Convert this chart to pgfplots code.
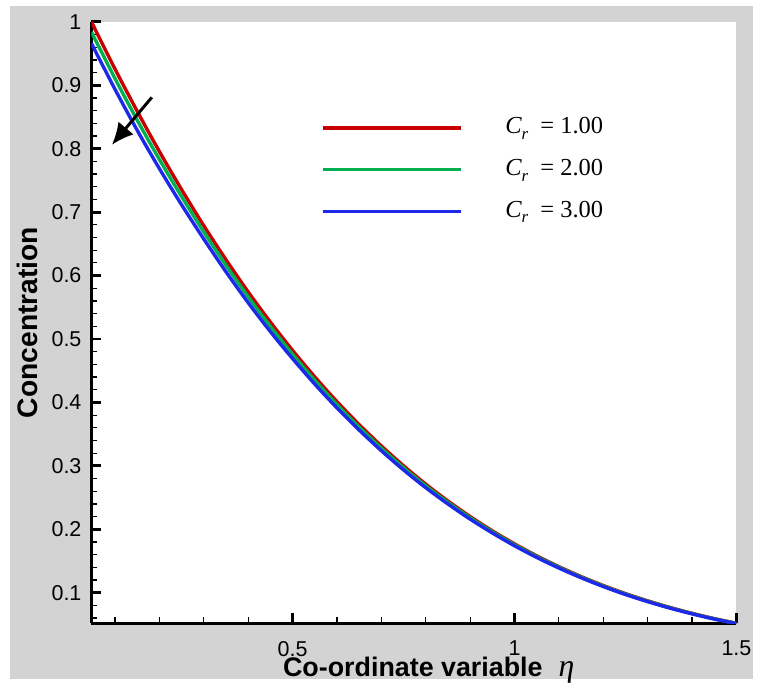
\documentclass[border=0pt]{standalone}
\usepackage{pgfplots}
\pgfplotsset{compat=1.18}
\usepackage{fontspec}
\setmainfont{Liberation Sans}
\newfontfamily\serif{Liberation Serif}
\usetikzlibrary{arrows.meta}

\definecolor{panelgray}{RGB}{211,211,211}
\definecolor{cred}{RGB}{200,0,0}
\definecolor{cgreen}{RGB}{0,176,80}
\definecolor{cblue}{RGB}{30,40,235}

% concentration profiles
\pgfplotstableread{
x y
0.047 1.000
0.10 0.9258
0.15 0.8592
0.20 0.7957
0.25 0.7357
0.30 0.6787
0.35 0.6250
0.40 0.5743
0.45 0.5267
0.50 0.4821
0.55 0.4403
0.60 0.4013
0.65 0.3651
0.70 0.3314
0.75 0.3001
0.80 0.2712
0.85 0.2446
0.90 0.2201
0.95 0.1976
1.00 0.1770
1.05 0.1582
1.10 0.1411
1.15 0.1255
1.20 0.1114
1.25 0.0986
1.30 0.0872
1.35 0.0768
1.40 0.0675
1.45 0.0592
1.50 0.0518
}\crone
\pgfplotstableread{
x y
0.047 0.984
0.10 0.9108
0.15 0.8452
0.20 0.7832
0.25 0.7247
0.30 0.6689
0.35 0.6162
0.40 0.5665
0.45 0.5198
0.50 0.4761
0.55 0.4350
0.60 0.3967
0.65 0.3611
0.70 0.3279
0.75 0.2971
0.80 0.2686
0.85 0.2424
0.90 0.2182
0.95 0.1960
1.00 0.1756
1.05 0.1570
1.10 0.1401
1.15 0.1246
1.20 0.1106
1.25 0.0979
1.30 0.0866
1.35 0.0763
1.40 0.0671
1.45 0.0588
1.50 0.0515
}\crtwo
\pgfplotstableread{
x y
0.047 0.966
0.10 0.8938
0.15 0.8292
0.20 0.7687
0.25 0.7117
0.30 0.6577
0.35 0.6060
0.40 0.5573
0.45 0.5117
0.50 0.4691
0.55 0.4289
0.60 0.3914
0.65 0.3565
0.70 0.3239
0.75 0.2936
0.80 0.2656
0.85 0.2399
0.90 0.2160
0.95 0.1942
1.00 0.1740
1.05 0.1556
1.10 0.1389
1.15 0.1236
1.20 0.1097
1.25 0.0971
1.30 0.0859
1.35 0.0757
1.40 0.0666
1.45 0.0584
1.50 0.0512
}\crthree

\newcommand{\crlab}[1]{{\serif\fontsize{12.3}{13}\selectfont\itshape C\raisebox{-0.5ex}{\fontsize{8.5}{9}\selectfont r}\upshape\hspace{0.5em}=\hspace{0.25em}#1}}

\begin{document}
\begin{tikzpicture}
\fill[white] (0,0) rectangle (379pt,343pt);
\fill[panelgray] (5pt,1.5pt) rectangle (379pt,340pt);
\begin{axis}[
    at={(46pt,29.5pt)}, anchor=south west,
    scale only axis,
    width=324.5pt, height=302.5pt,
    xmin=0.047, xmax=1.5,
    ymin=0.052, ymax=1,
    axis background/.style={fill=white},
    axis x line=bottom, axis y line=left,
    axis line style={-, line width=1.5pt, black},
    tick align=inside,
    major tick length=5pt, minor tick length=3pt,
    every major tick/.append style={line width=1.5pt, black},
    every minor tick/.append style={line width=0.6pt, black},
    xtick={0.5,1,1.5},
    minor xtick={0.1,0.2,0.3,0.4,0.6,0.7,0.8,0.9,1.1,1.2,1.3,1.4},
    ytick={0.1,0.2,0.3,0.4,0.5,0.6,0.7,0.8,0.9,1},
    minor ytick={0.06,0.08,0.12,0.14,0.16,0.18,0.22,0.24,0.26,0.28,0.32,0.34,0.36,0.38,0.42,0.44,0.46,0.48,0.52,0.54,0.56,0.58,0.62,0.64,0.66,0.68,0.72,0.74,0.76,0.78,0.82,0.84,0.86,0.88,0.92,0.94,0.96,0.98},
    /pgf/number format/assume math mode=true,
    tick label style={font=\fontsize{10.8}{12}\selectfont},
    yticklabel style={xshift=-1.5pt},
    xticklabel style={yshift=-5.5pt},
    xlabel={\textbf{Co-ordinate variable}\hspace{0.6em}{\serif\itshape\fontsize{16}{16}\selectfont η}},
    ylabel={\textbf{Concentration}},
    xlabel style={font=\fontsize{13.5}{14}\selectfont, at={(axis description cs:0.523,-0.089)}, anchor=base},
    ylabel style={font=\fontsize{14.2}{15}\selectfont, at={(axis description cs:-0.0832,0.5)}, anchor=base, rotate=0},
    legend style={at={(axis cs:0.55,0.857)}, anchor=north west, draw=none, fill=none,
        nodes={inner sep=0pt, text height=8.5pt, text depth=2.5pt}, row sep=10pt},
    legend cell align=left,
    legend image code/.code={\draw[#1] (0pt,0pt) -- (69.5pt,0pt); \path (91pt,0pt);},
]
\addplot[cred, line width=1.7pt, smooth] table {\crone};
\addplot[cgreen, line width=1.7pt, smooth] table {\crtwo};
\addplot[cblue, line width=1.7pt, smooth] table {\crthree};
\legend{\crlab{1.00}, \crlab{2.00}, \crlab{3.00}}
\draw[line width=1.5pt, -{Latex[length=11pt, width=10pt]}] (axis cs:0.183,0.881) -- (axis cs:0.093,0.806);
\end{axis}
\end{tikzpicture}
\end{document}
